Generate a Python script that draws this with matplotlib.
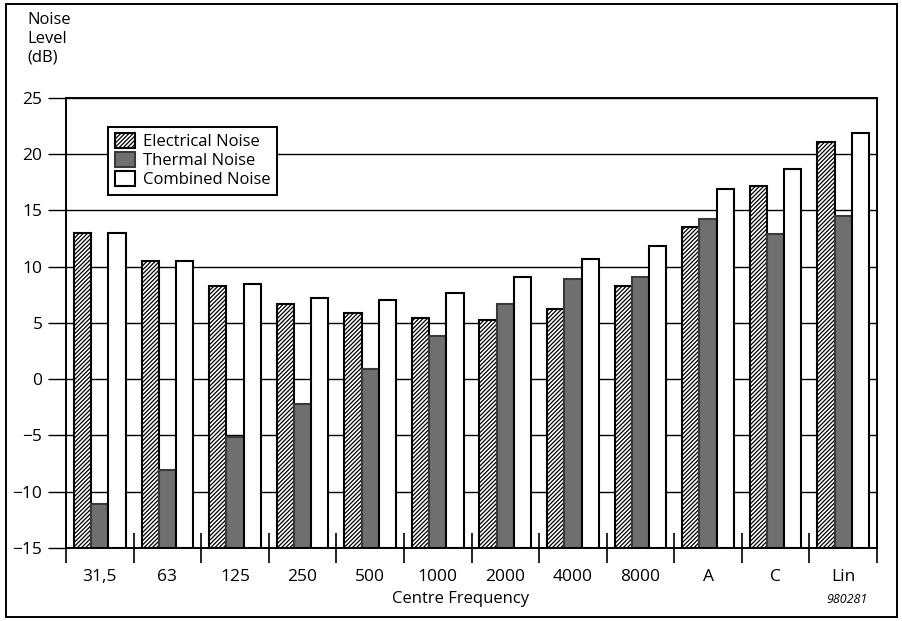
import numpy as np
import matplotlib.pyplot as plt
from matplotlib.patches import Rectangle

plt.rcParams['font.family'] = ['Open Sans', 'DejaVu Sans']
plt.rcParams['hatch.linewidth'] = 0.9

# Data
freqs = ['31,5', '63', '125', '250', '500', '1000', '2000', '4000', '8000', 'A', 'C', 'Lin']
electrical = [13.0, 10.5, 8.3, 6.7, 5.9, 5.4, 5.3, 6.2, 8.3, 13.5, 17.2, 21.1]
thermal = [-11.1, -8.1, -5.1, -2.2, 0.9, 3.8, 6.7, 8.9, 9.1, 14.2, 12.9, 14.5]
combined = [13.0, 10.5, 8.5, 7.2, 7.0, 7.7, 9.1, 10.7, 11.8, 16.9, 18.7, 21.9]

base = -15
x = np.arange(len(freqs))
w = 0.255

fig = plt.figure(figsize=(9.02, 6.21), dpi=100)
ax = fig.add_axes([0.0732, 0.1176, 0.8991, 0.7246])

# horizontal grid
ax.set_axisbelow(True)
ax.yaxis.grid(True, color='black', linewidth=1.0)

el = np.array(electrical) - base
th = np.array(thermal) - base
co = np.array(combined) - base
ax.bar(x - w, el, w, bottom=base, color='white', edgecolor='black',
       hatch='////////', linewidth=1.5, label='Electrical Noise')
ax.bar(x, th, w, bottom=base, color='#6f6f6f', edgecolor='#3a3a3a',
       linewidth=1.5, label='Thermal Noise')
ax.bar(x + w, co, w, bottom=base, color='white', edgecolor='black',
       linewidth=1.5, label='Combined Noise')

ax.set_xlim(-0.5, len(freqs) - 0.5)
ax.set_ylim(-15, 25)
ax.set_yticks(range(-15, 26, 5))
ax.tick_params(axis='y', direction='out', length=13, width=1.0, pad=4, labelsize=12.5)

ax.set_xticks(x)
ax.set_xticklabels(freqs)
ax.tick_params(axis='x', which='major', length=0, pad=15, labelsize=12.5)
ax.set_xticks(np.arange(-0.5, len(freqs), 1.0), minor=True)
ax.tick_params(axis='x', which='minor', direction='inout', length=22, width=1.2)

for s in ax.spines.values():
    s.set_linewidth(1.4)

leg = ax.legend(loc='upper left', bbox_to_anchor=(0.042, 0.955), fontsize=12,
                fancybox=False, framealpha=1, edgecolor='black',
                handlelength=1.2, handleheight=1.0, handletextpad=0.45,
                labelspacing=0.1, borderpad=0.4)
leg.get_frame().set_linewidth(1.4)

fig.text(0.03, 0.98, 'Noise\nLevel\n(dB)', ha='left', va='top', fontsize=12,
         linespacing=1.2)
fig.text(0.511, 0.022, 'Centre Frequency', ha='center', va='bottom', fontsize=12)
fig.text(0.962, 0.024, '980281', ha='right', va='bottom', fontsize=9,
         style='italic')

# outer frame
fig.patches.append(Rectangle((0.007, 0.006), 0.988, 0.988, transform=fig.transFigure,
                             fill=False, edgecolor='black', linewidth=1.4))

fig.savefig('out.png', dpi=100)
